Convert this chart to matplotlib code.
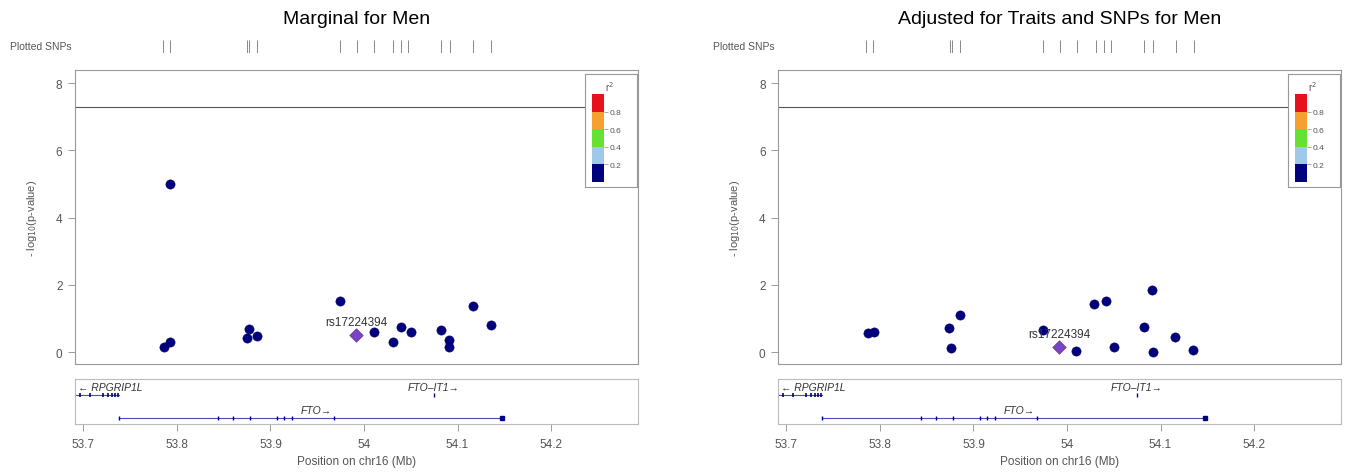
import numpy as np
import matplotlib
matplotlib.use("Agg")
from matplotlib import pyplot as plt

plt.rcParams['font.family'] = ['Liberation Sans', 'DejaVu Sans']

# SNP data (position in Mb, -log10 p)
snp_pos = [53.7856, 53.7927, 53.8748, 53.8775, 53.8855, 53.9745, 53.993, 54.0109,
           54.0305, 54.0395, 54.0476, 54.0826, 54.0915, 54.1165, 54.1357]

marg_pos = [53.786, 53.793, 53.793, 53.875, 53.877, 53.886, 53.9745, 54.011,
            54.0305, 54.040, 54.050, 54.0826, 54.091, 54.091, 54.1165, 54.1357]
marg_logp = [0.17, 0.30, 5.0, 0.42, 0.69, 0.47, 1.51, 0.61,
             0.30, 0.76, 0.61, 0.67, 0.36, 0.17, 1.38, 0.81]

adj_pos = [53.787, 53.794, 53.8735, 53.8765, 53.886, 53.974, 54.010, 54.029,
           54.042, 54.050, 54.082, 54.091, 54.092, 54.116, 54.1345]
adj_logp = [0.58, 0.60, 0.71, 0.14, 1.12, 0.66, 0.03, 1.44,
            1.51, 0.15, 0.75, 1.85, 0.0, 0.44, 0.07]

ref_snp = "rs17224394"
ref_pos = 53.992
ref_logp_marg = 0.52
ref_logp_adj = 0.16

gw_line = 7.3

# genes
rpgrip_span = [53.691, 53.7385]
rpgrip_exons = [53.691, 53.6965, 53.7072, 53.7214, 53.7267, 53.7304, 53.7339, 53.7374]
fto_span = [53.7385, 54.148]
fto_exons = [53.7385, 53.8444, 53.8604, 53.8783, 53.9075, 53.9147, 53.9229, 53.9681]
fto_end = 54.148
ftoit1_pos = 54.075

r2_bins = [0.0, 0.2, 0.4, 0.6, 0.8, 1.0]
r2_colors = ['#000080', '#9fc9ea', '#66e033', '#f5a030', '#e8101a']
r2_ticks = [0.2, 0.4, 0.6, 0.8]

xticks = [53.7, 53.8, 53.9, 54.0, 54.1, 54.2]
xtick_labels = ['53.7', '53.8', '53.9', '54', '54.1', '54.2']
yticks = [0, 2, 4, 6, 8]

W, H = 1351, 477
fig = plt.figure(figsize=(W / 100, H / 100), dpi=100)

xlim = (53.691, 54.293)
grey = '#999999'
tcol = '#555555'


def px(x0, y0, x1, y1):
    return [x0 / W, 1 - y1 / H, (x1 - x0) / W, (y1 - y0) / H]


def panel(off, title, pos, logp, ref_logp):
    # main plot
    ax = fig.add_axes(px(75 + off, 71, 638 + off, 365))
    ax.scatter(pos, logp, s=44, color='#000080', edgecolors='#000050', linewidths=0.4, zorder=3)
    ax.scatter([ref_pos], [ref_logp], s=48, marker='D', color='#7a45c2', edgecolors='#5a2aa0',
               linewidths=0.4, zorder=4)
    ax.annotate(ref_snp, (ref_pos, ref_logp), xytext=(0, 5), textcoords='offset points',
                ha='center', va='bottom', fontsize=8.5, color='#333333')
    ax.axhline(gw_line, color='#555555', lw=0.8)
    ax.set_xlim(xlim)
    ax.set_ylim(-0.35, 8.39)
    ax.set_xticks([])
    ax.set_yticks(yticks)
    ax.tick_params(axis='y', direction='out', length=5, width=0.7, color=grey,
                   labelsize=8.5, labelcolor=tcol, pad=4)
    for s in ax.spines.values():
        s.set_color(grey)
        s.set_linewidth(0.8)
    ax.set_ylabel('- log$_{10}$(p-value)', fontsize=8, color=tcol, labelpad=12)

    # r2 legend
    lg = ax.inset_axes([0.906, 0.602, 0.092, 0.384], zorder=5)
    lg.set_facecolor('white')
    lg.set_xticks([])
    lg.set_yticks([])
    for s in lg.spines.values():
        s.set_color(grey)
        s.set_linewidth(0.8)
    lg.text(0.38, 0.85, 'r$^2$', transform=lg.transAxes, fontsize=7, color=tcol)
    cb = ax.inset_axes([0.9186, 0.62, 0.0206, 0.298], zorder=6)
    cb.bar(0, np.diff(r2_bins), bottom=r2_bins[:-1], width=1, color=r2_colors)
    cb.set_xlim(-0.5, 0.5)
    cb.set_ylim(0, 1)
    cb.set_xticks([])
    cb.yaxis.tick_right()
    cb.set_yticks(r2_ticks)
    cb.set_yticklabels(['%.1f' % t for t in r2_ticks])
    cb.tick_params(axis='y', length=3, width=0.6, color=grey, labelsize=6, labelcolor=tcol, pad=1.5)
    for s in cb.spines.values():
        s.set_visible(False)

    # rug of plotted SNPs
    rug = fig.add_axes(px(75 + off, 41, 638 + off, 54))
    rug.vlines(snp_pos, 0, 1, color='#888888', lw=0.7)
    rug.set_xlim(xlim)
    rug.set_ylim(0, 1)
    rug.axis('off')
    fig.text((72 + off) / W, 1 - 47 / H, 'Plotted SNPs', ha='right', va='center',
             fontsize=7.5, color=tcol)

    # gene track
    gx = fig.add_axes(px(75 + off, 380, 638 + off, 425))
    gx.set_xlim(xlim)
    gx.set_ylim(0, 1)
    gcol = '#4a4ab8'
    gx.plot(rpgrip_span, [0.65, 0.65], color=gcol, lw=0.8)
    gx.plot(rpgrip_exons, [0.65] * len(rpgrip_exons), '|', color='#000080', ms=3.5, mew=1.2)
    gx.text(rpgrip_span[0] + 0.003, 0.82, '\u2190 RPGRIP1L', fontsize=7.5, style='italic',
            color='#333333', va='center', ha='left')
    gx.plot(fto_span, [0.133, 0.133], color=gcol, lw=0.8)
    gx.plot(fto_exons, [0.133] * len(fto_exons), '|', color='#000080', ms=3.5, mew=1)
    gx.plot([fto_end], [0.133], 's', color='#000080', ms=3)
    gx.text(53.949, 0.30, 'FTO\u2192', fontsize=7.5, style='italic', color='#333333',
            va='center', ha='center')
    gx.plot([ftoit1_pos], [0.65], '|', color='#000080', ms=3, mew=1)
    gx.text(ftoit1_pos, 0.82, 'FTO\u2013IT1\u2192', fontsize=7.5, style='italic', color='#333333',
            va='center', ha='center')
    gx.set_yticks([])
    gx.set_xticks(xticks)
    gx.set_xticklabels(xtick_labels)
    gx.tick_params(axis='x', direction='out', length=5, width=0.7, color=grey,
                   labelsize=8.5, labelcolor=tcol, pad=5)
    for s in gx.spines.values():
        s.set_color('#bbbbbb')
        s.set_linewidth(0.8)
    gx.set_xlabel('Position on chr16 (Mb)', fontsize=8.5, color=tcol, labelpad=4)

    fig.text((356.5 + off) / W, 1 - 20 / H, title, ha='center', va='center', fontsize=14)


panel(0, 'Marginal for Men', marg_pos, marg_logp, ref_logp_marg)
panel(703, 'Adjusted for Traits and SNPs for Men', adj_pos, adj_logp, ref_logp_adj)

fig.savefig('out.png', dpi=100)
